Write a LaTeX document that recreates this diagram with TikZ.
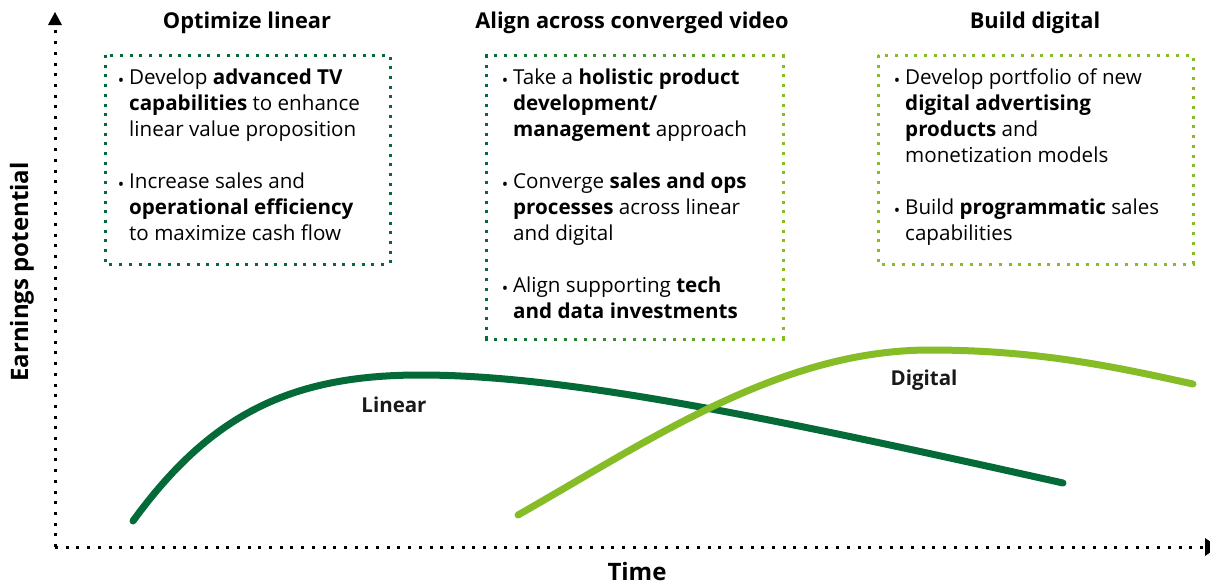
\documentclass[tikz,border=0pt]{standalone}
\usepackage{fontspec}
\setmainfont{Open Sans}
\definecolor{dgreen}{RGB}{4,106,56}
\definecolor{lgreen}{RGB}{134,188,37}
\tikzset{
  axisline/.style={line width=3pt, dash pattern=on 3pt off 7.7pt, black},
  boxdots/.style={line width=3pt, dash pattern=on 3pt off 6.7pt},
  bodytext/.style={inner sep=0pt, align=left, anchor=north west, font=\fontsize{20.6}{26}\selectfont, text=black},
  bul/.style={inner sep=0pt, anchor=base, font=\fontsize{17}{17}\selectfont, text=black},
  head/.style={inner sep=0pt, font=\fontsize{21.8}{24}\selectfont\bfseries},
  axlab/.style={inner sep=0pt, font=\fontsize{24}{28}\selectfont\bfseries},
  curve/.style={line width=7pt, line cap=round},
  curvelabel/.style={inner sep=0pt, font=\fontsize{20.5}{24}\selectfont\bfseries, text=black!90}
}
\begin{document}
\begin{tikzpicture}[x=1pt,y=-1pt]
\useasboundingbox (0,0) rectangle (1210,584);
% axes
\coordinate (o) at (55,547);
\coordinate (ytop) at (55,27);
\coordinate (xend) at (1203,547);
\draw[axisline] (o) -- (ytop);
\draw[axisline] (o) -- (xend);
\fill (48,25) -- (55,12) -- (62,25) -- cycle;
\fill (1205,538) -- (1218,547) -- (1205,556) -- cycle;
\node[axlab, rotate=90] (ylab) at (22,272) {Earnings potential};
\node[axlab] (xlab) at (637,571) {Time};
% headings
\node[head] (h1) at (247,23) {Optimize linear};
\node[head] (h2) at (632,23) {Align across converged video};
\node[head] (h3) at (1035,23) {Build digital};
% box 1
\draw[boxdots, dgreen] (105,55) rectangle (390,264);
\node[bul] (b1a) at (121,86) {•};
\node[bodytext] (t1a) at (129,68.3) {Develop \textbf{advanced TV}\\\textbf{capabilities} to enhance\\linear value proposition};
\node[bul] (b1b) at (121,190) {•};
\node[bodytext] (t1b) at (129,172.3) {Increase sales and\\\textbf{operational efficiency}\\to maximize cash flow};
% box 2 (gradient border)
\draw[boxdots, dgreen] (486,55) -- (486,339);
\draw[boxdots, lgreen] (783,55) -- (783,339);
\foreach \i in {0,...,30}{
  \pgfmathsetmacro\xx{486+\i*9.9}
  \pgfmathsetmacro\pp{100*\i/30}
  \fill[lgreen!\pp!dgreen] (\xx-1.5,53.5) rectangle ++(3,3);
  \fill[lgreen!\pp!dgreen] (\xx-1.5,337.5) rectangle ++(3,3);
}
\node[bul] (b2a) at (505,86) {•};
\node[bodytext] (t2a) at (513,68.3) {Take a \textbf{holistic product}\\\textbf{development/}\\\textbf{management} approach};
\node[bul] (b2b) at (505,190) {•};
\node[bodytext] (t2b) at (513,172.3) {Converge \textbf{sales and ops}\\\textbf{processes} across linear\\and digital};
\node[bul] (b2c) at (505,294) {•};
\node[bodytext] (t2c) at (513,276.3) {Align supporting \textbf{tech}\\\textbf{and data investments}};
% box 3
\draw[boxdots, lgreen] (878,55) rectangle (1193,264);
\node[bul] (b3a) at (897,86) {•};
\node[bodytext] (t3a) at (905,68.3) {Develop portfolio of new\\\textbf{digital advertising}\\\textbf{products} and\\monetization models};
\node[bul] (b3b) at (897,216) {•};
\node[bodytext] (t3b) at (905,198.3) {Build \textbf{programmatic} sales\\capabilities};
% curves
\coordinate (ls) at (133,521);
\coordinate (lp) at (420,375);
\coordinate (le) at (1063,483);
\draw[curve, dgreen] (ls) .. controls (210,415) and (290,375) .. (lp) .. controls (560,375) and (750,413) .. (le);
\coordinate (ds) at (518,515);
\coordinate (dp) at (930,350);
\coordinate (de) at (1193,384);
\draw[curve, lgreen] (ds) .. controls (650,440) and (780,350) .. (dp) .. controls (1040,350) and (1120,368) .. (de);
\node[curvelabel] (llab) at (394,405) {Linear};
\node[curvelabel] (dlab) at (924,380) {Digital};
\end{tikzpicture}
\end{document}
